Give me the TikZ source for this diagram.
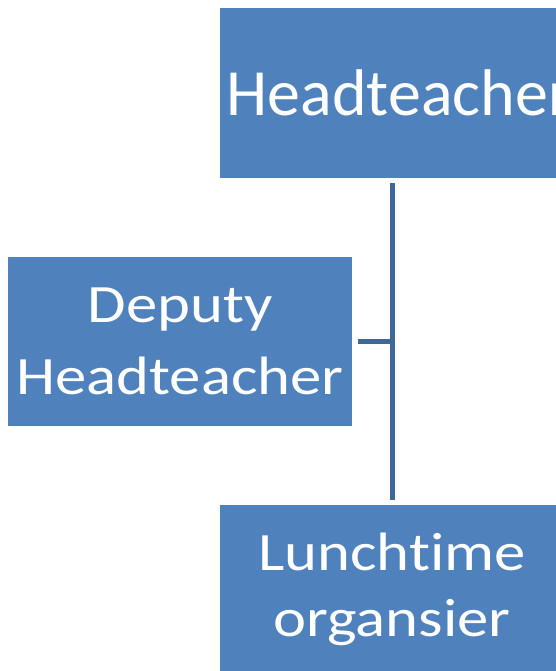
\documentclass[tikz,border=0pt]{standalone}
\usepackage{fontspec}
\setmainfont[Ligatures=NoCommon,FakeStretch=1.16]{Carlito}
\newfontfamily\headfont[Ligatures=NoCommon]{Carlito}
\definecolor{boxblue}{HTML}{4F81BD}
\definecolor{lineblue}{HTML}{3D6898}
\begin{document}
\begin{tikzpicture}[x=1pt,y=-1pt,
  orgbox/.style={fill=boxblue, text=white, inner sep=0pt, align=center, minimum height=169pt},
  conn/.style={draw=lineblue, line width=5pt}]
\useasboundingbox (0,0) rectangle (556,671);
\clip (0,0) rectangle (556,671);
\node[orgbox, minimum width=358pt, minimum height=170pt, font=\headfont\fontsize{66}{80}\selectfont] (head) at (399,93) {Headteacher};
\node[orgbox, minimum width=344pt, font=\fontsize{54}{72}\selectfont] (deputy) at (180,341.5) {Deputy\\Headteacher};
\node[orgbox, minimum width=344pt, font=\fontsize{54}{66}\selectfont] (lunch) at (392,589.5) {Lunchtime\\organsier};
\coordinate (top) at ([yshift=-5pt]head.south -| lunch.north);
\coordinate (bot) at ([yshift=5pt]lunch.north);
\coordinate (junc) at (deputy.east -| lunch.north);
\draw[conn] (top) -- (bot);
\draw[conn] ([xshift=6pt]deputy.east) -- ([xshift=2.5pt]junc);
\end{tikzpicture}
\end{document}
